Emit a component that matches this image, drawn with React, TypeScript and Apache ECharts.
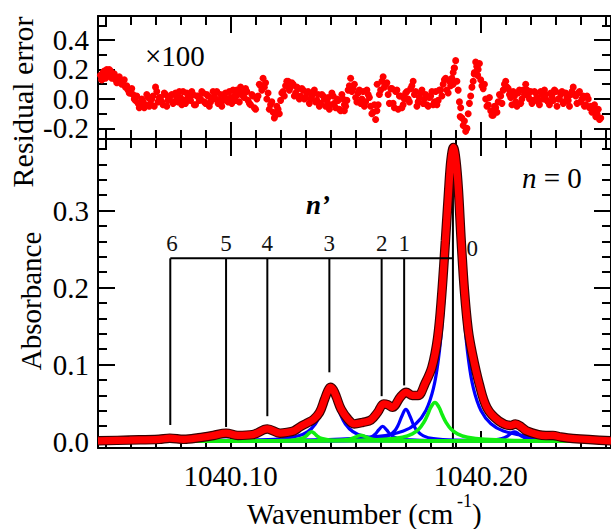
import React, { useEffect, useRef } from 'react';
import * as echarts from 'echarts';

const FONT = "'Liberation Serif', 'Times New Roman', Times, serif";

// ---------- axes ----------
const X_MIN = 1040.047;
const X_MAX = 1040.2521;
const xMajor = [1040.1, 1040.2];
const xMinor = [1040.05, 1040.06, 1040.07, 1040.08, 1040.09, 1040.1, 1040.11, 1040.12, 1040.13, 1040.14, 1040.15, 1040.16, 1040.17, 1040.18, 1040.19, 1040.2, 1040.21, 1040.22, 1040.23, 1040.24, 1040.25];

const RES_MIN = -0.272;
const RES_MAX = 0.563;
const resMajor = [-0.2, 0, 0.2, 0.4];
const resMinor = [-0.2, -0.1, 0, 0.1, 0.2, 0.3, 0.4, 0.5];

const ABS_MIN = -0.0083;
const ABS_MAX = 0.393;
const absMajor = [0, 0.1, 0.2, 0.3];
const absMinor = [0, 0.02, 0.04, 0.06, 0.08, 0.1, 0.12, 0.14, 0.16, 0.18, 0.2, 0.22, 0.24, 0.26, 0.28, 0.3, 0.32, 0.34, 0.36, 0.38];

// ---------- residuals (x100), sampled every 0.001 cm-1 from 1040.048 ----------
const residualStart = 1040.048;
const residualStep = 0.001;
const residuals = [
  0.16, 0.18, 0.14, 0.17, 0.19, 0.15, 0.13, 0.14, 0.11, 0.12,
  0.08, 0.06, 0.04, 0.03, -0.01, -0.03, -0.05, -0.02, -0.04, 0.01,
  -0.03, 0.02, 0.08, -0.02, 0.01, -0.04, 0.03, -0.01, 0.02, -0.03,
  0.04, -0.02, 0.01, 0.05, -0.03, 0.02, -0.01, 0.03, -0.04, 0.02,
  0.0, 0.04, -0.03, 0.02, -0.02, 0.05, 0.0, -0.03, 0.03, -0.01,
  0.04, -0.02, 0.01, 0.06, -0.01, 0.03, 0.08, 0.02, 0.07, -0.01,
  -0.04, 0.02, -0.07, 0.02, 0.09, 0.14, 0.11, 0.04, -0.04, -0.09,
  -0.11, -0.07, -0.01, 0.05, 0.09, 0.12, 0.08, 0.1, 0.04, 0.07,
  0.02, 0.06, 0.01, 0.05, 0.0, 0.04, -0.02, 0.03, -0.03, 0.02,
  -0.05, 0.01, -0.04, 0.02, -0.06, -0.01, -0.08, 0.0, -0.05, 0.06,
  0.14, 0.07, 0.01, 0.04, -0.03, 0.05, -0.02, 0.03, -0.05, -0.09,
  -0.14, -0.04, 0.06, 0.15, 0.1, 0.03, 0.07, -0.03, 0.05, -0.07,
  0.02, -0.04, 0.04, 0.0, 0.07, 0.12, 0.05, -0.02, 0.04, -0.03,
  0.03, -0.05, 0.02, -0.04, 0.05, -0.01, 0.06, 0.1, 0.14, 0.04,
  0.09, 0.18, 0.26, 0.06, -0.06, -0.18, -0.22, -0.1, 0.02, 0.12,
  0.25, 0.2, 0.13, 0.07, 0.0, -0.04, -0.08, -0.11, -0.06, -0.02,
  0.02, 0.06, 0.12, 0.07, 0.01, 0.05, -0.02, 0.04, -0.03, 0.06,
  0.1, 0.02, 0.05, -0.01, 0.04, -0.02, 0.05, 0.0, 0.03, -0.02,
  0.04, -0.01, 0.05, 0.0, 0.03, -0.03, 0.04, -0.01, 0.03, 0.08,
  0.02, 0.04, -0.02, 0.02, -0.04, 0.0, -0.05, -0.08, -0.12, -0.07,
  -0.13,
];
// readings half-way between the samples above (1040.0485, 1040.0495, ...)
const residualsMid = [
  0.13, 0.19, 0.15, 0.2, 0.14, 0.17, 0.11, 0.15, 0.1, 0.13,
  0.09, 0.04, 0.07, 0.0, 0.02, -0.06, 0.0, -0.06, 0.03, -0.05,
  0.0, -0.05, 0.05, 0.01, -0.02, 0.04, -0.05, 0.0, 0.03, -0.02,
  0.01, 0.05, -0.04, -0.01, 0.04, 0.0, 0.05, -0.04, 0.02, -0.01,
  0.05, -0.02, 0.03, -0.05, 0.0, 0.02, 0.05, -0.01, -0.05, 0.03,
  0.0, 0.05, -0.03, 0.02, 0.06, -0.02, 0.04, 0.01, 0.05, -0.03,
  0.03, -0.06, 0.0, 0.1, 0.06, 0.08, 0.0, -0.07, -0.02, -0.13,
  -0.05, -0.1, 0.04, 0.02, 0.12, 0.06, 0.11, 0.02, 0.08, 0.0,
  0.07, 0.0, 0.04, -0.03, 0.02, 0.06, -0.01, -0.05, 0.03, 0.0,
  -0.01, -0.07, 0.04, -0.03, 0.0, -0.07, 0.03, -0.04, -0.01, 0.09,
  0.05, 0.1, -0.02, 0.06, 0.0, -0.05, 0.06, 0.01, -0.1, -0.04,
  -0.08, 0.03, 0.12, 0.08, 0.11, -0.03, 0.07, -0.06, 0.06, 0.02,
  -0.06, 0.0, 0.05, -0.02, 0.09, 0.03, -0.05, 0.01, 0.06, 0.0,
  -0.04, 0.01, 0.05, -0.02, -0.04, 0.06, 0.02, 0.13, 0.06, 0.12,
  0.14, 0.21, 0.12, -0.02, -0.13, -0.15, -0.2, -0.03, 0.08, 0.18,
  0.22, 0.24, 0.09, 0.1, -0.05, 0.01, -0.11, -0.05, -0.09, 0.03,
  -0.03, 0.1, 0.08, 0.03, -0.04, 0.02, -0.05, 0.06, 0.0, 0.03,
  0.06, 0.0, -0.03, 0.05, 0.01, -0.04, 0.03, 0.06, -0.01, -0.04,
  0.02, 0.06, -0.05, 0.0, 0.05, -0.02, 0.01, -0.05, 0.05, 0.03,
  -0.03, 0.05, 0.0, -0.05, 0.02, -0.06, -0.09, -0.04, -0.1, -0.14,
];
const residualExtra: [number, number][] = [
  [1040.0485, 0.13], [1040.0505, 0.2], [1040.1894, 0.21], [1040.189, 0.1],
  [1040.1918, -0.12], [1040.1974, 0.17], [1040.1985, 0.22], [1040.1988, 0.16],
  [1040.1586, 0.1], [1040.1455, -0.08],
];

// ---------- absorbance: measured / total fit (red) ----------
const absorbanceFit: [number, number][] = [
  [1040.047, 0.001], [1040.0596, 0.002], [1040.0714, 0.003], [1040.0757, 0.0045], [1040.0813, 0.003],
  [1040.0872, 0.005], [1040.0931, 0.008], [1040.0982, 0.011], [1040.1029, 0.008], [1040.1088, 0.009],
  [1040.1147, 0.0165], [1040.1198, 0.011], [1040.1226, 0.012], [1040.1253, 0.014], [1040.1277, 0.019],
  [1040.1305, 0.024], [1040.1332, 0.029], [1040.1356, 0.038], [1040.1376, 0.055], [1040.1388, 0.065],
  [1040.1399, 0.0705], [1040.1411, 0.067], [1040.1423, 0.058], [1040.1442, 0.042], [1040.147, 0.029],
  [1040.1494, 0.023], [1040.1529, 0.025], [1040.1561, 0.028], [1040.1588, 0.038], [1040.1612, 0.049],
  [1040.1628, 0.048], [1040.1647, 0.0445], [1040.1679, 0.058], [1040.1702, 0.064], [1040.1726, 0.06],
  [1040.175, 0.06], [1040.1777, 0.075], [1040.1805, 0.0965], [1040.1828, 0.135], [1040.1844, 0.19],
  [1040.1859, 0.261], [1040.1872, 0.326], [1040.1881, 0.365], [1040.1891, 0.382], [1040.1901, 0.365],
  [1040.1911, 0.326], [1040.1922, 0.261], [1040.1935, 0.196], [1040.195, 0.145], [1040.1966, 0.115],
  [1040.1994, 0.075], [1040.2025, 0.044], [1040.2072, 0.027], [1040.212, 0.021], [1040.2139, 0.023],
  [1040.2163, 0.019], [1040.2183, 0.014], [1040.223, 0.009], [1040.2261, 0.0078], [1040.2289, 0.008],
  [1040.232, 0.006], [1040.2368, 0.004], [1040.2521, 0.001],
];

// ---------- blue components ----------
const blueN3: [number, number][] = [
  [1040.047, 0.0009], [1040.0849, 0.0012], [1040.1079, 0.002], [1040.1199, 0.0037], [1040.1269, 0.0072],
  [1040.1309, 0.0129], [1040.1339, 0.0229], [1040.1359, 0.0357], [1040.1379, 0.0543], [1040.1399, 0.0658],
  [1040.1419, 0.0543], [1040.1439, 0.0357], [1040.1459, 0.0229], [1040.1489, 0.0129], [1040.1529, 0.0072],
  [1040.1599, 0.0037], [1040.1719, 0.002], [1040.1949, 0.0012], [1040.2521, 0.0009],
];
const blueN2: [number, number][] = [
  [1040.047, 0.0008], [1040.1208, 0.0009], [1040.1408, 0.0012], [1040.1498, 0.002], [1040.1538, 0.0034],
  [1040.1563, 0.0061], [1040.1578, 0.0096], [1040.1593, 0.0156], [1040.1608, 0.0198], [1040.1623, 0.0156],
  [1040.1638, 0.0096], [1040.1653, 0.0061], [1040.1678, 0.0034], [1040.1718, 0.002], [1040.1808, 0.0012],
  [1040.2008, 0.0009], [1040.2521, 0.0008],
];
const blueN1: [number, number][] = [
  [1040.047, 0.0009], [1040.1301, 0.001], [1040.1501, 0.0018], [1040.1591, 0.0038], [1040.1631, 0.0075],
  [1040.1656, 0.014], [1040.1671, 0.022], [1040.1686, 0.034], [1040.1701, 0.0418], [1040.1716, 0.034],
  [1040.1731, 0.022], [1040.1746, 0.014], [1040.1771, 0.0075], [1040.1811, 0.0038], [1040.1901, 0.0018],
  [1040.2101, 0.001], [1040.2521, 0.0009],
];
const blueN0: [number, number][] = [
  [1040.047, 0.0011], [1040.1191, 0.0019], [1040.1441, 0.0034], [1040.1591, 0.0067], [1040.1691, 0.0138],
  [1040.1741, 0.0232], [1040.1781, 0.0404], [1040.1811, 0.0691], [1040.1831, 0.1069], [1040.1846, 0.1549],
  [1040.1861, 0.2284], [1040.1871, 0.2896], [1040.1881, 0.3452], [1040.1891, 0.3688], [1040.1901, 0.3452],
  [1040.1911, 0.2896], [1040.1921, 0.2284], [1040.1936, 0.1549], [1040.1951, 0.1069], [1040.1971, 0.0691],
  [1040.2001, 0.0404], [1040.2041, 0.0232], [1040.2091, 0.0138], [1040.2191, 0.0067], [1040.2341, 0.0034],
  [1040.2521, 0.0021],
];
const blueHot: [number, number][] = [
  [1040.047, 0.0008], [1040.1835, 0.0009], [1040.1985, 0.0013], [1040.2055, 0.0023], [1040.2085, 0.004],
  [1040.2105, 0.0068], [1040.212, 0.0104], [1040.2135, 0.0128], [1040.215, 0.0104], [1040.2165, 0.0068],
  [1040.2185, 0.004], [1040.2215, 0.0023], [1040.2285, 0.0013], [1040.2521, 0.0009],
];

// ---------- green components ----------
const greenA: [number, number][] = [
  [1040.047, 0.0009], [1040.1217, 0.0011], [1040.1467, 0.0015], [1040.1617, 0.003], [1040.1687, 0.0057],
  [1040.1727, 0.0101], [1040.1752, 0.016], [1040.1772, 0.0247], [1040.1787, 0.0344], [1040.1802, 0.0454],
  [1040.1817, 0.0508], [1040.1832, 0.0454], [1040.1847, 0.0344], [1040.1862, 0.0247], [1040.1882, 0.016],
  [1040.1907, 0.0101], [1040.1947, 0.0057], [1040.2017, 0.003], [1040.2167, 0.0015], [1040.2417, 0.0011],
  [1040.2521, 0.001],
];
const greenB: [number, number][] = [
  [1040.047, 0.0008], [1040.1074, 0.0009], [1040.1194, 0.0012], [1040.1254, 0.0021], [1040.1284, 0.004],
  [1040.13, 0.0068], [1040.1312, 0.0104], [1040.1324, 0.0128], [1040.1336, 0.0104], [1040.1348, 0.0068],
  [1040.1364, 0.004], [1040.1394, 0.0021], [1040.1454, 0.0012], [1040.1574, 0.0009], [1040.2521, 0.0008],
];
const greenC: [number, number][] = [
  [1040.047, 0.0008], [1040.1321, 0.001], [1040.1431, 0.0016], [1040.1471, 0.0028], [1040.1491, 0.0046],
  [1040.1506, 0.0068], [1040.1521, 0.0083], [1040.1536, 0.0068], [1040.1551, 0.0046], [1040.1571, 0.0028],
  [1040.1611, 0.0016], [1040.1721, 0.001], [1040.2521, 0.0008],
];

// ---------- n' assignment ladder ----------
const nLabels = ['6', '5', '4', '3', '2', '1', '0'];
const nPos = [1040.0759, 1040.0982, 1040.1147, 1040.1395, 1040.1604, 1040.1694, 1040.1889];
const nTop = [0.238, 0.238, 0.238, 0.238, 0.238, 0.238, 0.361];
const nEnd = [0.0216, 0.019, 0.033, 0.09, 0.059, 0.073, ABS_MIN];
const nLabelX = [1040.0766, 1040.0982, 1040.1147, 1040.1395, 1040.1604, 1040.1694, 1040.1966];
const nLabelY = [0.257, 0.257, 0.257, 0.257, 0.257, 0.257, 0.251];
const bracketY = 0.238;
const nPrimePos: [number, number] = [1040.135, 0.307];

const BLACK = '#000000';
const lineSt = { color: BLACK, width: 2 };

function makeX(gridIndex: number, labels: boolean) {
  const base: any = { type: 'value', gridIndex, min: X_MIN, max: X_MAX, splitLine: { show: false } };
  return [
    {
      ...base, position: 'bottom',
      axisLine: { show: true, onZero: false, lineStyle: lineSt },
      axisTick: { show: true, inside: true, length: 17, lineStyle: lineSt, customValues: xMajor },
      axisLabel: labels
        ? { show: true, customValues: xMajor, formatter: (v: number) => v.toFixed(2), margin: 13, color: BLACK, fontFamily: FONT, fontSize: 29 }
        : { show: false },
    },
    {
      ...base, position: 'bottom',
      axisLine: { show: false, onZero: false },
      axisTick: { show: true, inside: true, length: 9, lineStyle: lineSt, customValues: xMinor },
      axisLabel: { show: false },
    },
    {
      ...base, position: 'top',
      axisLine: { show: true, onZero: false, lineStyle: lineSt },
      axisTick: { show: true, inside: true, length: 17, lineStyle: lineSt, customValues: xMajor },
      axisLabel: { show: false },
    },
    {
      ...base, position: 'top',
      axisLine: { show: false, onZero: false },
      axisTick: { show: true, inside: true, length: 9, lineStyle: lineSt, customValues: xMinor },
      axisLabel: { show: false },
    },
  ];
}

function makeY(gridIndex: number, min: number, max: number, major: number[], minor: number[]) {
  const base: any = { type: 'value', gridIndex, min, max, splitLine: { show: false } };
  return [
    {
      ...base, position: 'left',
      axisLine: { show: true, onZero: false, lineStyle: lineSt },
      axisTick: { show: true, inside: true, length: 17, lineStyle: lineSt, customValues: major },
      axisLabel: { show: true, customValues: major, formatter: (v: number) => v.toFixed(1), margin: 9, color: BLACK, fontFamily: FONT, fontSize: 29 },
    },
    {
      ...base, position: 'left',
      axisLine: { show: false, onZero: false },
      axisTick: { show: true, inside: true, length: 9, lineStyle: lineSt, customValues: minor },
      axisLabel: { show: false },
    },
    {
      ...base, position: 'right',
      axisLine: { show: true, onZero: false, lineStyle: lineSt },
      axisTick: { show: true, inside: true, length: 17, lineStyle: lineSt, customValues: major },
      axisLabel: { show: false },
    },
    {
      ...base, position: 'right',
      axisLine: { show: false, onZero: false },
      axisTick: { show: true, inside: true, length: 9, lineStyle: lineSt, customValues: minor },
      axisLabel: { show: false },
    },
  ];
}

function compSeries(data: [number, number][], color: string, width: number) {
  return {
    type: 'line', xAxisIndex: 4, yAxisIndex: 4, data, showSymbol: false, symbol: 'none',
    smooth: 0.4, lineStyle: { color, width }, silent: true,
  };
}

function buildOption(): any {
  const residualData: [number, number][] = residuals.map((v, i) => [residualStart + i * residualStep, v]);
  residualsMid.forEach((v, i) => residualData.push([residualStart + (i + 0.5) * residualStep, v]));
  residualExtra.forEach((p) => residualData.push(p));

  const ladderData = nPos.map((x, i) => [x, nEnd[i], i, nTop[i]]);

  return {
    animation: false,
    backgroundColor: '#ffffff',
    textStyle: { fontFamily: FONT },
    grid: [
      { left: 98, top: 16, width: 521, height: 123 },
      { left: 98, top: 139, width: 521, height: 309 },
    ],
    xAxis: [...makeX(0, false), ...makeX(1, true)],
    yAxis: [
      ...makeY(0, RES_MIN, RES_MAX, resMajor, resMinor),
      ...makeY(1, ABS_MIN, ABS_MAX, absMajor, absMinor),
    ],
    series: [
      {
        type: 'scatter', xAxisIndex: 0, yAxisIndex: 0, data: residualData,
        symbol: 'circle', symbolSize: 7, itemStyle: { color: '#ff0000', opacity: 1 }, silent: true,
      },
      compSeries(blueN3, '#0000ff', 3.2),
      compSeries(blueN2, '#0000ff', 3.2),
      compSeries(blueN1, '#0000ff', 3.2),
      compSeries(blueN0, '#0000ff', 3.2),
      compSeries(blueHot, '#0000ff', 3.2),
      compSeries(greenB, '#11ee11', 3.6),
      compSeries(greenC, '#11ee11', 3.6),
      compSeries(greenA, '#11ee11', 3.6),
      {
        type: 'line', xAxisIndex: 4, yAxisIndex: 4, data: absorbanceFit, showSymbol: false, symbol: 'none',
        smooth: 0.35, lineStyle: { color: '#3a0000', width: 9.5 }, silent: true,
      },
      {
        type: 'line', xAxisIndex: 4, yAxisIndex: 4, data: absorbanceFit, showSymbol: false, symbol: 'none',
        smooth: 0.35, lineStyle: { color: '#ff0000', width: 7.2 }, silent: true,
      },
      {
        type: 'line', xAxisIndex: 4, yAxisIndex: 4,
        data: [[nPos[0], bracketY], [nPos[nPos.length - 1], bracketY]],
        showSymbol: false, symbol: 'none', lineStyle: { color: BLACK, width: 2 }, silent: true,
      },
      {
        type: 'custom', xAxisIndex: 4, yAxisIndex: 4, data: ladderData, silent: true, clip: false,
        renderItem: (_params: any, api: any) => {
          const i = api.value(2);
          const x = api.value(0);
          const p1 = api.coord([x, api.value(3)]);
          const p2 = api.coord([x, api.value(1)]);
          const lp = api.coord([nLabelX[i], nLabelY[i]]);
          return {
            type: 'group',
            children: [
              { type: 'line', shape: { x1: p1[0], y1: p1[1], x2: p2[0], y2: p2[1] }, style: { stroke: BLACK, lineWidth: 2 } },
              {
                type: 'text', x: lp[0], y: lp[1],
                style: { text: nLabels[i], fill: '#111', fontFamily: FONT, fontSize: 23, align: 'center', verticalAlign: 'middle' },
              },
            ],
          };
        },
      },
      {
        type: 'custom', xAxisIndex: 4, yAxisIndex: 4, data: [nPrimePos], silent: true, clip: false,
        renderItem: (_params: any, api: any) => {
          const p = api.coord([api.value(0), api.value(1)]);
          return {
            type: 'text', x: p[0], y: p[1],
            style: { text: 'n\u2019', fill: BLACK, fontFamily: FONT, fontSize: 27, fontStyle: 'italic', fontWeight: 'bold', align: 'center', verticalAlign: 'middle' },
          };
        },
      },
    ],
    graphic: [
      {
        type: 'text', x: 22, y: 102, rotation: Math.PI / 2,
        style: { text: 'Residual error', fontFamily: FONT, fontSize: 30, fill: BLACK, align: 'center', verticalAlign: 'middle' },
      },
      {
        type: 'text', x: 31, y: 301, rotation: Math.PI / 2,
        style: { text: 'Absorbance', fontFamily: FONT, fontSize: 29, fill: BLACK, align: 'center', verticalAlign: 'middle' },
      },
      {
        type: 'text', x: 145, y: 56,
        style: { text: '\u00d7100', fontFamily: FONT, fontSize: 29, fill: BLACK, align: 'left', verticalAlign: 'middle' },
      },
      {
        type: 'text', x: 522, y: 178,
        style: {
          text: '{i|n} = 0', fontFamily: FONT, fontSize: 29, fill: BLACK, align: 'left', verticalAlign: 'middle',
          rich: { i: { fontStyle: 'italic', fontFamily: FONT, fontSize: 29, fill: BLACK } },
        },
      },
      {
        type: 'text', x: 247, y: 514,
        style: { text: 'Wavenumber (cm', fontFamily: FONT, fontSize: 29, fill: BLACK, align: 'left', verticalAlign: 'middle' },
      },
      {
        type: 'text', x: 457, y: 501,
        style: { text: '-1', fontFamily: FONT, fontSize: 18, fill: BLACK, align: 'left', verticalAlign: 'middle' },
      },
      {
        type: 'text', x: 472, y: 514,
        style: { text: ')', fontFamily: FONT, fontSize: 29, fill: BLACK, align: 'left', verticalAlign: 'middle' },
      },
    ],
  };
}

export default function App() {
  const ref = useRef<HTMLDivElement>(null);

  useEffect(() => {
    if (!ref.current) return;
    const chart = echarts.init(ref.current, undefined, { renderer: 'svg' });
    chart.setOption(buildOption());
    return () => chart.dispose();
  }, []);

  return (
    <div
      ref={ref}
      style={{ position: 'fixed', left: 0, top: 0, width: 611, height: 529, background: '#fff' }}
    />
  );
}
